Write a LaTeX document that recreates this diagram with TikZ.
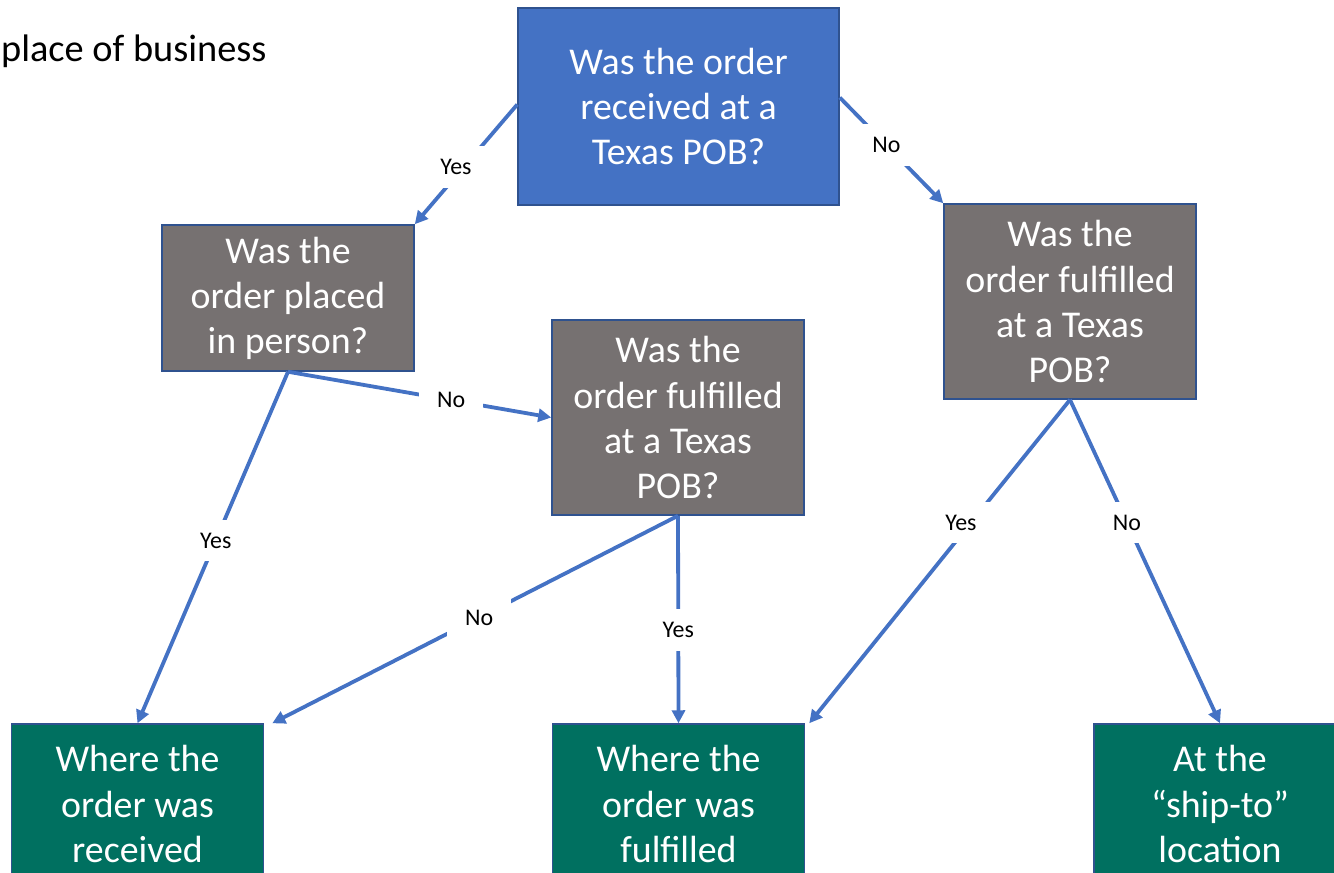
\documentclass[tikz,border=0pt]{standalone}
\usepackage{fontspec}
\setmainfont{Carlito}
\usetikzlibrary{arrows.meta}
\definecolor{qblue}{HTML}{4472C4}
\definecolor{qedge}{HTML}{2F528F}
\definecolor{qgray}{HTML}{767171}
\definecolor{qgreen}{HTML}{007060}
\tikzset{
  box/.style={draw=qedge, line width=1.5bp, text=white, align=center,
    minimum width=252bp, inner sep=0pt,
    font=\fontsize{38}{45.2}\selectfont},
  topbox/.style={box, fill=qblue, minimum width=321bp, minimum height=197bp},
  qbox/.style={box, fill=qgray},
  abox/.style={box, fill=qgreen, minimum height=160bp},
  conn/.style={draw=qblue, line width=3.8bp, -{Triangle[length=13bp,width=13bp]}},
  lbl/.style={fill=white, text=black, inner xsep=18bp, inner ysep=13bp, font=\fontsize{24}{27}\selectfont},
}
\begin{document}
\begin{tikzpicture}[x=1bp,y=-1bp]
\useasboundingbox (0,0) rectangle (1334,872);
\node[anchor=base west, inner sep=0pt, font=\fontsize{38.5}{45}\selectfont] (title) at (1,61) {place of business};

\node[topbox] (q1) at (678.5,106.5) {Was the order\\received at a\\Texas POB?};
\node[qbox, minimum height=146bp] (q2) at (288,298) {Was the\\order placed\\in person?};
\node[qbox, minimum height=195bp] (q3) at (678,417.5) {Was the\\order fulfilled\\at a Texas\\POB?};
\node[qbox, minimum height=195bp] (q4) at (1070,301.5) {Was the\\order fulfilled\\at a Texas\\POB?};

\node[abox] (a1) at (137.5,804) {Where the\\order was\\received};
\node[abox] (a2) at (678.5,804) {Where the\\order was\\fulfilled};
\node[abox] (a3) at (1220,804) {At the\\“ship-to”\\location};

\draw[conn] ([yshift=2bp]q1.west) -- node[lbl, pos=0.52, xshift=-8bp] {Yes} (q2.north east);
\draw[conn] ([yshift=9bp]q1.east) -- node[lbl, pos=0.45] {No} (q4.north west);
\draw[conn] (q2.south) -- node[lbl, pos=0.62] {No} (q3.west);
\draw[conn] (q2.south) -- node[lbl, pos=0.48] {Yes} (a1.north);
\draw[conn] (q3.south) -- node[lbl, pos=0.49] {No} ([xshift=8bp]a1.north east);
\draw[conn] (q3.south) -- node[lbl, pos=0.55] {Yes} (a2.north);
\draw[conn] (q4.south) -- node[lbl, pos=0.38, xshift=-10bp] {Yes} ([xshift=4bp]a2.north east);
\draw[conn] (q4.south) -- node[lbl, pos=0.38] {No} (a3.north);
\end{tikzpicture}
\end{document}
